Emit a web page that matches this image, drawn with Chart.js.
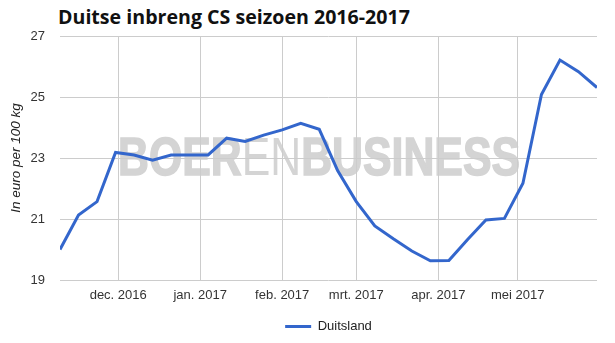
<!DOCTYPE html>
<html>
<head>
<meta charset="utf-8">
<script src="https://cdn.jsdelivr.net/npm/chart.js@4"></script>
<style>
  html, body { margin: 0; padding: 0; background: #ffffff; }
  #wrap { position: relative; width: 615px; height: 343px; }
  #title {
    position: absolute; left: 58px; top: 3px;
    font-family: "Open Sans", sans-serif; font-weight: bold; font-size: 19.6px;
    color: #111111; white-space: nowrap;
  }
  canvas { position: absolute; left: 0; top: 0; }
</style>
</head>
<body>
<div id="wrap">
  <div id="title">Duitse inbreng CS seizoen 2016-2017</div>
  <canvas id="chart" width="615" height="343"></canvas>
</div>
<script>
(function() {
  window.addEventListener("load", main);

  // weekly quotes
  const dates = ["2016-11-09", "2016-11-16", "2016-11-23", "2016-11-30", "2016-12-07",
    "2016-12-14", "2016-12-21", "2016-12-28", "2017-01-04", "2017-01-11", "2017-01-18",
    "2017-01-25", "2017-02-01", "2017-02-08", "2017-02-15", "2017-02-22", "2017-03-01",
    "2017-03-08", "2017-03-15", "2017-03-22", "2017-03-29", "2017-04-05", "2017-04-12",
    "2017-04-19", "2017-04-26", "2017-05-03", "2017-05-10", "2017-05-17", "2017-05-24",
    "2017-05-31"];
  const duitsland = [20.0, 21.13, 21.57, 23.18, 23.1, 22.93, 23.1, 23.1, 23.1, 23.65,
    23.54, 23.75, 23.92, 24.14, 23.94, 22.58, 21.57, 20.77, 20.35, 19.95, 19.63, 19.64,
    20.32, 20.97, 21.02, 22.17, 25.08, 26.21, 25.83, 25.31];

  const monthDates = ["2016-12-01", "2017-01-01", "2017-02-01", "2017-03-01", "2017-04-01", "2017-05-01"];
  const monthLabels = ["dec. 2016", "jan. 2017", "feb. 2017", "mrt. 2017", "apr. 2017", "mei 2017"];
  const yTicks = [19, 21, 23, 25, 27];

  const X_START = "2016-11-09";
  const X_END = "2017-05-31";
  const BLUE = "#3366cc";
  const GRID = "#cccccc";

  function dayOf(d) {
    return (Date.parse(d) - Date.parse(X_START)) / 864e5;
  }

  // grey BOERENBUSINESS logo behind the grid
  const watermark = {
    id: "watermark",
    beforeDraw(chart) {
      let ctx = chart.ctx;
      let parts = [["BOER", "bold"], ["EN", "normal"], ["BUSINESS", "bold"]];
      let size = 53;
      ctx.save();
      let total = 0;
      for (let i = 0; i < parts.length; i++) {
        ctx.font = parts[i][1] + " " + size + "px 'Liberation Sans', sans-serif";
        total += ctx.measureText(parts[i][0]).width;
      }
      let targetW = 402;
      ctx.translate(118, 175);
      ctx.scale(targetW / total, 1);
      ctx.fillStyle = "#d4d4d4";
      ctx.strokeStyle = "#d4d4d4";
      ctx.lineWidth = 1.5;
      ctx.textBaseline = "alphabetic";
      let x = 0;
      for (let i = 0; i < parts.length; i++) {
        ctx.font = parts[i][1] + " " + size + "px 'Liberation Sans', sans-serif";
        ctx.fillText(parts[i][0], x, 0);
        if (parts[i][1] === "bold") {
          ctx.strokeText(parts[i][0], x, 0);
        }
        x += ctx.measureText(parts[i][0]).width;
      }
      ctx.restore();
    }
  };

  function main() {
    let points = [];
    for (let i = 0; i < dates.length; i++) {
      points.push({x: dayOf(dates[i]), y: duitsland[i]});
    }
    let monthPos = monthDates.map(dayOf);

    let ctx = document.getElementById("chart").getContext("2d");
    let chart = new Chart(ctx, {
      type: "line",
      data: {
        datasets: [{
          label: "Duitsland",
          data: points,
          borderColor: BLUE,
          backgroundColor: BLUE,
          borderWidth: 3,
          pointRadius: 0,
          tension: 0,
          fill: false
        }]
      },
      options: {
        responsive: false,
        animation: false,
        layout: {padding: {top: 36, right: 18, left: 0, bottom: 0}},
        plugins: {
          tooltip: {enabled: false},
          legend: {
            position: "bottom",
            fullSize: false,
            labels: {
              boxWidth: 26,
              boxHeight: 3,
              padding: 10,
              color: "#222222",
              font: {family: "'Liberation Sans', sans-serif", size: 13},
              generateLabels: function(c) {
                let items = Chart.defaults.plugins.legend.labels.generateLabels(c);
                items.forEach(function(it) { it.lineWidth = 0; });
                return items;
              }
            }
          }
        },
        scales: {
          x: {
            type: "linear",
            min: dayOf(X_START),
            max: dayOf(X_END),
            afterBuildTicks: function(scale) {
              scale.ticks = monthPos.map(function(v) { return {value: v}; });
            },
            afterFit: function(scale) { scale.height = 30; },
            grid: {color: GRID, drawTicks: false},
            border: {display: false},
            ticks: {
              padding: 8,
              maxRotation: 0,
              autoSkip: false,
              color: "#333333",
              font: {family: "'Liberation Sans', sans-serif", size: 13},
              callback: function(v) {
                let i = monthPos.indexOf(v);
                return i >= 0 ? monthLabels[i] : "";
              }
            }
          },
          y: {
            min: yTicks[0],
            max: yTicks[yTicks.length - 1],
            afterBuildTicks: function(scale) {
              scale.ticks = yTicks.map(function(v) { return {value: v}; });
            },
            afterFit: function(scale) { scale.width = 60; },
            grid: {color: GRID, drawTicks: false},
            border: {display: false},
            title: {
              display: true,
              text: "In euro per 100 kg",
              color: "#222222",
              padding: {top: 8, bottom: 0},
              font: {family: "'Liberation Sans', sans-serif", size: 13.5, style: "italic"}
            },
            ticks: {
              padding: 15,
              color: "#333333",
              font: {family: "'Liberation Sans', sans-serif", size: 13}
            }
          }
        }
      },
      plugins: [watermark]
    });
  }
})();
</script>
</body>
</html>
